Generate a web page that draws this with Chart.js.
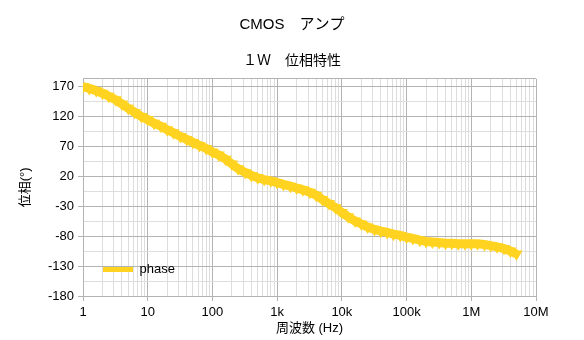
<!DOCTYPE html>
<html>
<head>
<meta charset="utf-8">
<script src="https://cdn.jsdelivr.net/npm/chart.js@4.4.1/dist/chart.umd.min.js"></script>
<style>
  html, body { margin: 0; padding: 0; background: #fff; }
  #wrap { width: 584px; height: 340px; }
</style>
</head>
<body>
<div id="wrap"><canvas id="chart" width="584" height="340"></canvas></div>
<script>
// 周波数 (Hz)
const freqHz = [
  1, 1.25, 1.6, 2, 2.5, 3.2, 4, 5, 6.3, 8,
  10, 12.5, 16, 20, 25, 32, 40, 50, 63, 80,
  100, 125, 160, 200, 250, 320, 400, 500, 630, 800,
  1e3, 1.25e3, 1.6e3, 2e3, 2.5e3, 3.2e3, 4e3, 5e3, 6.3e3, 8e3,
  1e4, 1.25e4, 1.6e4, 2e4, 2.5e4, 3.2e4, 4e4, 5e4, 6.3e4, 8e4,
  1e5, 1.25e5, 1.6e5, 2e5, 2.5e5, 3.2e5, 4e5, 5e5, 6.3e5, 8e5,
  1e6, 1.25e6, 1.6e6, 2e6, 2.5e6, 3.2e6, 4e6, 5e6
];

// 位相 (°)
const phaseDeg = [
  169, 166, 162, 158, 153, 147, 140, 133, 126, 119,
  114, 108, 103, 97, 92, 86, 81, 76, 71, 66,
  60, 55, 48, 40, 32, 26, 21, 17, 14, 12,
  9, 6, 3, 0, -3, -7, -12, -19, -26, -33,
  -41, -48, -55, -60, -65, -69, -72, -74, -77, -79,
  -82, -84, -87, -89, -90, -91, -92, -92, -93, -93,
  -93, -93, -94, -96, -98, -101, -105, -110
];

const xDecades = [1, 10, 100, 1e3, 1e4, 1e5, 1e6, 1e7];
const xTickLabels = ['1', '10', '100', '1k', '10k', '100k', '1M', '10M'];
const yTickValues = [-180, -130, -80, -30, 20, 70, 120, 170];
const yMin = -180;
const yMax = 182;

const FONT = '"Liberation Sans", "Noto Sans CJK JP", sans-serif';
const MAJOR = '#b3b3b3';
const MINOR = '#dddddd';
const YELLOW = '#ffd320';

Chart.defaults.font.family = FONT;
Chart.defaults.color = '#000';

/*
* grid: decades + 2..9 minor lines
*/
function xTicks(scale) {
  const t = [];
  xDecades.forEach((d, i) => {
    if (i === xDecades.length - 1) { t.push({ value: d }); return; }
    for (let k = 1; k < 10; k++) t.push({ value: d * k });
  });
  scale.ticks = t;
}

function yTicks(scale) {
  const t = [];
  for (let v = yMin; v <= yTickValues[yTickValues.length - 1]; v += 25) t.push({ value: v });
  t.push({ value: yMax });
  scale.ticks = t;
}

const isXMajor = v => xDecades.some(d => Math.abs(v / d - 1) < 1e-9);
const isYMajor = v => yTickValues.includes(v) || v === yMax;

// legend sits inside the plot, bottom left
const legendInPlot = {
  id: 'legendInPlot',
  afterLayout(chart) {
    const lg = chart.legend;
    lg.top = chart.chartArea.top;
    lg.bottom = chart.chartArea.bottom;
  }
};

const ctx = document.getElementById('chart');

new Chart(ctx, {
  type: 'line',
  data: {
    datasets: [{
      label: 'phase',
      data: freqHz.map((f, i) => ({ x: f, y: phaseDeg[i] })),
      borderColor: YELLOW,
      backgroundColor: YELLOW,
      borderWidth: 9,
      pointStyle: 'triangle',
      rotation: 180,
      pointRadius: 7,
      pointBorderWidth: 0,
      tension: 0
    }]
  },
  plugins: [legendInPlot],
  options: {
    responsive: false,
    animation: false,
    layout: { padding: { left: 0, right: 0, top: 0, bottom: 4 } },
    plugins: {
      title: {
        display: true,
        text: 'CMOS　アンプ',
        font: { size: 15, weight: 'normal' },
        padding: { top: 16, bottom: 19 }
      },
      subtitle: {
        display: true,
        text: '１Ｗ　位相特性',
        font: { size: 14, weight: 'normal' },
        color: '#000',
        padding: { top: 0, bottom: 9 }
      },
      legend: {
        position: 'chartArea',
        align: 'end',
        labels: {
          boxWidth: 30,
          boxHeight: 5,
          padding: 20,
          font: { size: 13 },
          generateLabels: chart =>
            Chart.defaults.plugins.legend.labels.generateLabels(chart)
              .map(l => Object.assign(l, { lineWidth: 0 }))
        }
      },
      tooltip: { enabled: false }
    },
    scales: {
      x: {
        type: 'logarithmic',
        min: 1,
        max: 1e7,
        afterBuildTicks: xTicks,
        afterFit: s => { s.height = 40; s.paddingRight = 48; },
        ticks: {
          autoSkip: false,
          maxRotation: 0,
          padding: 4,
          font: { size: 13 },
          callback: v => {
            const i = xDecades.findIndex(d => Math.abs(v / d - 1) < 1e-9);
            return i >= 0 ? xTickLabels[i] : '';
          }
        },
        grid: {
          color: c => isXMajor(c.tick.value) ? MAJOR : MINOR,
          tickColor: c => isXMajor(c.tick.value) ? MAJOR : 'rgba(0,0,0,0)',
          tickLength: 5
        },
        border: { color: MAJOR },
        title: {
          display: true,
          text: '周波数 (Hz)',
          font: { size: 13 },
          padding: { top: 0, bottom: 0 }
        }
      },
      y: {
        min: yMin,
        max: yMax,
        afterBuildTicks: yTicks,
        afterFit: s => { s.width = 83; },
        ticks: {
          autoSkip: false,
          padding: 4,
          font: { size: 13 },
          callback: v => yTickValues.includes(v) ? String(v) : ''
        },
        grid: {
          color: c => isYMajor(c.tick.value) ? MAJOR : MINOR,
          tickColor: c => yTickValues.includes(c.tick.value) ? MAJOR : 'rgba(0,0,0,0)',
          tickLength: 5
        },
        border: { color: MAJOR },
        title: {
          display: true,
          text: '位相(°)',
          font: { size: 13 },
          padding: { top: 18, bottom: 4 }
        }
      }
    }
  }
});
</script>
</body>
</html>
